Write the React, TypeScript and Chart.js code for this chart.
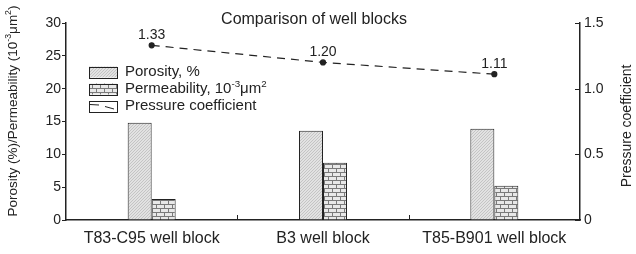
import { useEffect, useRef } from 'react';
import { Chart, registerables } from 'chart.js';

Chart.register(...registerables);

const categories = ['T83-C95 well block', 'B3 well block', 'T85-B901 well block'];
const porosity = [14.8, 13.6, 13.9];
const permeability = [3.2, 8.7, 5.2];
const pressureCoefficient = [1.33, 1.2, 1.11];
const leftTicks = [0, 5, 10, 15, 20, 25, 30];
const rightTicks = [0, 0.5, 1.0, 1.5];
const chartTitle = 'Comparison of well blocks';
const legendLabels = ['Porosity, %', 'Permeability, 10|-3|μm|2', 'Pressure coefficient'];
const leftTitle = 'Porosity (%)/Permeability (10|-3|μm|2|)';
const rightTitle = 'Pressure coefficient';

const FONT = '"Liberation Sans", Arial, Helvetica, sans-serif';
const INK = '#222';

type Seg = { t: string; sup: boolean };
function parseRich(s: string): Seg[] {
  return s.split('|').map((t, i) => ({ t, sup: i % 2 === 1 })).filter((g) => g.t.length > 0);
}

function richWidth(ctx: CanvasRenderingContext2D, segs: Seg[], size: number) {
  let w = 0;
  for (const g of segs) {
    ctx.font = `${g.sup ? size * 0.65 : size}px ${FONT}`;
    w += ctx.measureText(g.t).width;
  }
  return w;
}

function drawRich(ctx: CanvasRenderingContext2D, text: string, x: number, y: number, size: number, align: 'left' | 'center') {
  const segs = parseRich(text);
  const total = richWidth(ctx, segs, size);
  let cx = align === 'center' ? x - total / 2 : x;
  ctx.textAlign = 'left';
  ctx.textBaseline = 'middle';
  for (const g of segs) {
    const fs = g.sup ? size * 0.65 : size;
    ctx.font = `${fs}px ${FONT}`;
    ctx.fillText(g.t, cx, g.sup ? y - size * 0.3 : y);
    cx += ctx.measureText(g.t).width;
  }
}

function hatchPattern(ctx: CanvasRenderingContext2D) {
  const c = document.createElement('canvas');
  c.width = 3;
  c.height = 3;
  const g = c.getContext('2d')!;
  g.fillStyle = '#e2e2e2';
  g.fillRect(0, 0, 3, 3);
  g.strokeStyle = '#b8b8b8';
  g.lineWidth = 0.7;
  g.beginPath();
  g.moveTo(0, 3);
  g.lineTo(3, 0);
  g.moveTo(-1, 1);
  g.lineTo(1, -1);
  g.moveTo(2, 4);
  g.lineTo(4, 2);
  g.stroke();
  return ctx.createPattern(c, 'repeat')!;
}

function brickPattern(ctx: CanvasRenderingContext2D) {
  const c = document.createElement('canvas');
  c.width = 8;
  c.height = 8;
  const g = c.getContext('2d')!;
  g.fillStyle = '#e8e8e8';
  g.fillRect(0, 0, 8, 8);
  g.strokeStyle = '#7a7a7a';
  g.lineWidth = 1;
  g.beginPath();
  g.moveTo(0, 0.5);
  g.lineTo(8, 0.5);
  g.moveTo(0, 4.5);
  g.lineTo(8, 4.5);
  g.moveTo(0.5, 0);
  g.lineTo(0.5, 4);
  g.moveTo(4.5, 4);
  g.lineTo(4.5, 8);
  g.stroke();
  return ctx.createPattern(c, 'repeat')!;
}

export default function App() {
  const ref = useRef<HTMLCanvasElement | null>(null);

  useEffect(() => {
    document.body.style.margin = '0';
    const canvas = ref.current!;
    const ctx = canvas.getContext('2d')!;
    const hatch = hatchPattern(ctx);
    const brick = brickPattern(ctx);

    const overlay = {
      id: 'overlay',
      afterDraw(chart: any) {
        const c: CanvasRenderingContext2D = chart.ctx;
        const area = chart.chartArea;
        c.save();
        c.fillStyle = INK;
        c.strokeStyle = INK;

        c.font = `16px ${FONT}`;
        c.textAlign = 'center';
        c.textBaseline = 'middle';
        c.fillText(chartTitle, 314, 20);

        const y1 = chart.scales.y1;
        c.lineWidth = 1;
        c.beginPath();
        for (const v of rightTicks) {
          const py = Math.round(y1.getPixelForValue(v)) + 0.5;
          c.moveTo(area.right - 5, py);
          c.lineTo(area.right, py);
        }
        const xs = chart.scales.x;
        for (let i = 0; i < categories.length - 1; i++) {
          const px = Math.round((xs.getPixelForTick(i) + xs.getPixelForTick(i + 1)) / 2) + 0.5;
          c.moveTo(px, area.bottom);
          c.lineTo(px, area.bottom - 5);
        }
        c.stroke();

        const meta = chart.getDatasetMeta(2);
        c.font = `14px ${FONT}`;
        c.textAlign = 'center';
        c.textBaseline = 'middle';
        meta.data.forEach((pt: any, i: number) => {
          c.fillText(pressureCoefficient[i].toFixed(2), pt.x, pt.y - 10);
        });

        const bx = 89;
        const bw = 28;
        const bh = 11;
        const rows = [72, 89, 106];
        const fills = [hatch, brick, '#ffffff'];
        rows.forEach((ry, i) => {
          const top = ry - bh / 2;
          c.fillStyle = fills[i] as any;
          c.fillRect(bx, top, bw, bh);
          c.strokeStyle = INK;
          c.lineWidth = 1;
          c.strokeRect(bx + 0.5, Math.round(top) + 0.5, bw, bh);
          if (i === 2) {
            c.beginPath();
            c.moveTo(bx + 1, Math.round(top) + 3.5);
            c.lineTo(bx + 10, Math.round(top) + 4);
            c.moveTo(bx + 16, Math.round(top) + 5.5);
            c.lineTo(bx + 25, Math.round(top) + 8);
            c.stroke();
          }
          c.fillStyle = INK;
          drawRich(c, legendLabels[i], 125, ry, 15, 'left');
        });

        c.fillStyle = INK;
        c.save();
        c.translate(13, 111);
        c.rotate(-Math.PI / 2);
        drawRich(c, leftTitle, 0, 0, 13.5, 'center');
        c.restore();
        c.save();
        c.translate(627, 126);
        c.rotate(-Math.PI / 2);
        drawRich(c, rightTitle, 0, 0, 14, 'center');
        c.restore();

        c.restore();
      },
    };

    const chart = new Chart(canvas, {
      type: 'bar',
      data: {
        labels: categories,
        datasets: [
          {
            type: 'bar',
            label: 'Porosity, %',
            data: porosity,
            yAxisID: 'y',
            backgroundColor: hatch,
            borderColor: INK,
            borderWidth: 1,
            barPercentage: 1,
            categoryPercentage: 0.28,
            order: 2,
          },
          {
            type: 'bar',
            label: 'Permeability',
            data: permeability,
            yAxisID: 'y',
            backgroundColor: brick,
            borderColor: INK,
            borderWidth: 1,
            barPercentage: 1,
            categoryPercentage: 0.28,
            order: 2,
          },
          {
            type: 'line',
            label: 'Pressure coefficient',
            data: pressureCoefficient,
            yAxisID: 'y1',
            borderColor: INK,
            borderWidth: 1.2,
            borderDash: [8, 6],
            pointRadius: 2.5,
            pointBackgroundColor: INK,
            pointBorderColor: INK,
            fill: false,
            order: 0,
          } as any,
        ],
      },
      options: {
        responsive: false,
        animation: false,
        layout: { padding: { top: 23, left: 0, right: 0, bottom: 0 } },
        plugins: {
          legend: { display: false },
          tooltip: { enabled: false },
          title: { display: false },
        },
        scales: {
          x: {
            grid: { display: true, drawOnChartArea: false, drawTicks: false },
            border: { display: true, color: INK, width: 1.5 },
            ticks: { font: { size: 16, family: FONT }, color: INK, padding: 9, maxRotation: 0, autoSkip: false },
            afterFit: (s: any) => {
              s.height = 34;
            },
          },
          y: {
            position: 'left',
            min: 0,
            max: 30,
            afterBuildTicks: (s: any) => {
              s.ticks = leftTicks.map((v) => ({ value: v }));
            },
            grid: { display: true, drawOnChartArea: false, tickLength: 4, color: INK, lineWidth: 1 },
            border: { display: true, color: INK, width: 1.5 },
            ticks: { font: { size: 14, family: FONT }, color: INK, padding: 1 },
            afterFit: (s: any) => {
              s.width = 66;
            },
          },
          y1: {
            position: 'right',
            min: 0,
            max: 1.5,
            afterBuildTicks: (s: any) => {
              s.ticks = rightTicks.map((v) => ({ value: v }));
            },
            grid: { display: true, drawOnChartArea: false, drawTicks: false },
            border: { display: true, color: INK, width: 1.5 },
            ticks: {
              font: { size: 14, family: FONT },
              color: INK,
              padding: 4,
              callback: (v: any) => (Number(v) === 0 ? '0' : Number(v).toFixed(1)),
            },
            afterFit: (s: any) => {
              s.width = 56;
            },
          },
        },
      },
      plugins: [overlay],
    });

    return () => chart.destroy();
  }, []);

  return (
    <div style={{ width: 636, height: 254 }}>
      <canvas ref={ref} width={636} height={254} />
    </div>
  );
}
